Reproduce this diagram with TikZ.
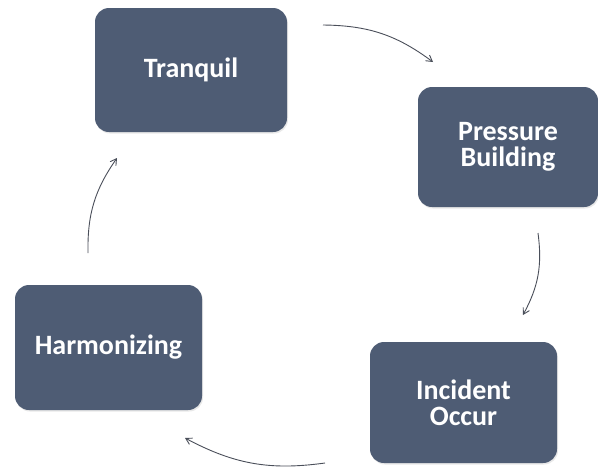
\documentclass[tikz,border=0pt]{standalone}
\usepackage{fontspec}
\setmainfont{Carlito}
\usetikzlibrary{arrows.meta,shadows}
\definecolor{boxfill}{HTML}{4E5C74}
\definecolor{arrowcol}{HTML}{4A4F5A}
\tikzset{
  stagebox/.style={draw=none, fill=boxfill, rounded corners=14pt, text=white,
    font=\bfseries\fontsize{28}{26}\selectfont, align=center, inner sep=0pt,
    drop shadow={opacity=0.18, shadow xshift=1pt, shadow yshift=-1.5pt}},
  cyclearrow/.style={draw=arrowcol, line width=0.9pt, -{Straight Barb[length=6pt,width=7pt]}, bend left=18}
}
\begin{document}
\begin{tikzpicture}[x=1pt,y=-1pt]
\useasboundingbox[fill=white] (0,0) rectangle (598,467);
\node[stagebox, minimum width=192pt, minimum height=124pt] (tranquil) at (191,70) {Tranquil};
\node[stagebox, minimum width=180pt, minimum height=120pt] (pressure) at (508,147) {\fontsize{28}{26}\selectfont Pressure\\ Building};
\node[stagebox, minimum width=187pt, minimum height=121pt] (incident) at (463.5,402.5) {\fontsize{28}{32}\selectfont Incident\\ Occur};
\node[stagebox, minimum width=187pt, minimum height=125pt] (harmon) at (108.5,347.5) {Harmonizing};
\coordinate (a1s) at (323,25);  \coordinate (a1e) at (433,62);
\coordinate (a2s) at (538,233); \coordinate (a2e) at (523,315);
\coordinate (a3s) at (325,463); \coordinate (a3e) at (185,438);
\coordinate (a4s) at (88,253);  \coordinate (a4e) at (117,158);
\draw[cyclearrow] (a1s) to (a1e);
\draw[cyclearrow] (a2s) to (a2e);
\draw[cyclearrow] (a3s) to (a3e);
\draw[cyclearrow] (a4s) to (a4e);
\end{tikzpicture}
\end{document}
